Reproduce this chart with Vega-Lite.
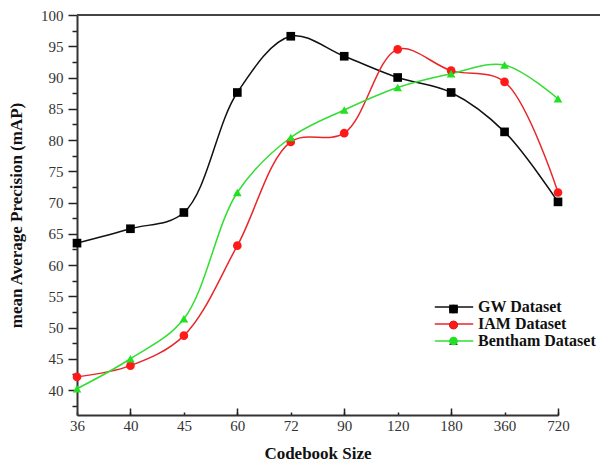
{
  "$schema": "https://vega.github.io/schema/vega-lite/v6.json",
  "width": 523,
  "height": 400,
  "autosize": "none",
  "padding": {"left": 77, "top": 15, "right": 0, "bottom": 53},
  "background": "white",
  "config": {"view": {"stroke": null}, "font": "Liberation Serif"},
  "data": {
    "values": [
      {"size": "36", "series": "GW Dataset", "map": 63.5},
      {"size": "40", "series": "GW Dataset", "map": 65.8},
      {"size": "45", "series": "GW Dataset", "map": 68.4},
      {"size": "60", "series": "GW Dataset", "map": 87.6},
      {"size": "72", "series": "GW Dataset", "map": 96.6},
      {"size": "90", "series": "GW Dataset", "map": 93.4},
      {"size": "120", "series": "GW Dataset", "map": 90.0},
      {"size": "180", "series": "GW Dataset", "map": 87.6},
      {"size": "360", "series": "GW Dataset", "map": 81.3},
      {"size": "720", "series": "GW Dataset", "map": 70.1},
      {"size": "36", "series": "IAM Dataset", "map": 42.1},
      {"size": "40", "series": "IAM Dataset", "map": 43.9},
      {"size": "45", "series": "IAM Dataset", "map": 48.7},
      {"size": "60", "series": "IAM Dataset", "map": 63.1},
      {"size": "72", "series": "IAM Dataset", "map": 79.7},
      {"size": "90", "series": "IAM Dataset", "map": 81.1},
      {"size": "120", "series": "IAM Dataset", "map": 94.5},
      {"size": "180", "series": "IAM Dataset", "map": 91.1},
      {"size": "360", "series": "IAM Dataset", "map": 89.3},
      {"size": "720", "series": "IAM Dataset", "map": 71.6},
      {"size": "36", "series": "Bentham Dataset", "map": 40.2},
      {"size": "40", "series": "Bentham Dataset", "map": 45.0},
      {"size": "45", "series": "Bentham Dataset", "map": 51.4},
      {"size": "60", "series": "Bentham Dataset", "map": 71.6},
      {"size": "72", "series": "Bentham Dataset", "map": 80.4},
      {"size": "90", "series": "Bentham Dataset", "map": 84.8},
      {"size": "120", "series": "Bentham Dataset", "map": 88.4},
      {"size": "180", "series": "Bentham Dataset", "map": 90.6},
      {"size": "360", "series": "Bentham Dataset", "map": 92.0},
      {"size": "720", "series": "Bentham Dataset", "map": 86.6}
    ]
  },
  "resolve": {"axis": {"x": "independent", "y": "independent"}},
  "layer": [
    {
      "mark": {"type": "rule", "color": "#444444", "strokeWidth": 2},
      "encoding": {
        "y": {
          "datum": 100,
          "type": "quantitative",
          "axis": {
            "orient": "left",
            "title": null,
            "labels": false,
            "domain": false,
            "grid": false,
            "values": [37.5, 42.5, 47.5, 52.5, 57.5, 62.5, 67.5, 72.5, 77.5, 82.5, 87.5, 92.5, 97.5],
            "tickSize": 5,
            "tickWidth": 1.5,
            "tickColor": "#222222"
          }
        }
      }
    },
    {
      "mark": {"type": "line", "interpolate": "catmull-rom", "strokeWidth": 1.5},
      "encoding": {
        "x": {
          "field": "size",
          "type": "ordinal",
          "sort": ["36", "40", "45", "60", "72", "90", "120", "180", "360", "720"],
          "scale": {"type": "point", "range": [0, 481], "padding": 0},
          "axis": {
            "orient": "bottom",
            "title": "Codebook Size",
            "titleFont": "Liberation Serif",
            "titleFontSize": 17,
            "titleFontWeight": "bold",
            "titleColor": "#111111",
            "titlePadding": 12,
            "labelFont": "Liberation Serif",
            "labelFontSize": 15,
            "labelColor": "#333333",
            "labelAngle": 0,
            "labelPadding": 6,
            "ticks": true,
            "tickSize": -3,
            "tickWidth": 1.5,
            "tickColor": "#222222",
            "domainColor": "#333333",
            "domainWidth": 2
          }
        },
        "y": {
          "field": "map",
          "type": "quantitative",
          "scale": {"domain": [36, 100], "nice": false, "zero": false},
          "axis": {
            "orient": "left",
            "title": "mean Average Precision (mAP)",
            "titleFont": "Liberation Serif",
            "titleFontSize": 17,
            "titleFontWeight": "bold",
            "titleColor": "#111111",
            "titlePadding": 15,
            "values": [40, 45, 50, 55, 60, 65, 70, 75, 80, 85, 90, 95, 100],
            "labelFont": "Liberation Serif",
            "labelFontSize": 15,
            "labelColor": "#333333",
            "labelPadding": 5,
            "labelFlush": false,
            "grid": false,
            "tickColor": "#222222",
            "tickWidth": 1.5,
            "tickSize": 9,
            "domainColor": "#333333",
            "domainWidth": 2
          }
        },
        "color": {
          "field": "series",
          "type": "nominal",
          "scale": {"domain": ["GW Dataset", "IAM Dataset", "Bentham Dataset"], "range": ["#111111", "#e8262a", "#33dd33"]},
          "legend": {
            "orient": "none",
            "legendX": 368,
            "legendY": 283,
            "title": null,
            "symbolType": "M-2.4,0H2.4",
            "symbolSize": 256,
            "symbolStrokeWidth": 1.5,
            "labelFont": "Liberation Serif",
            "labelFontSize": 16,
            "labelFontWeight": "bold",
            "labelColor": "#111111",
            "labelOffset": 15,
            "rowPadding": 0
          }
        }
      }
    },
    {
      "mark": {"type": "point", "filled": true, "size": 75, "opacity": 1},
      "encoding": {
        "x": {
          "field": "size",
          "type": "ordinal",
          "sort": ["36", "40", "45", "60", "72", "90", "120", "180", "360", "720"],
          "scale": {"type": "point", "range": [0, 481], "padding": 0},
          "axis": {
            "orient": "bottom",
            "title": null,
            "labels": false,
            "domain": false,
            "tickSize": -7,
            "tickWidth": 1.5,
            "tickColor": "#222222",
            "tickOpacity": {"condition": {"test": "indexof(['40','60','90','180','720'], datum.value) >= 0", "value": 1}, "value": 0}
          }
        },
        "y": {"field": "map", "type": "quantitative", "axis": null},
        "fill": {
          "field": "series",
          "type": "nominal",
          "sort": ["GW Dataset", "IAM Dataset", "Bentham Dataset"],
          "scale": {"range": ["#000000", "#ff1a1a", "#22e022"]},
          "legend": {
            "orient": "none",
            "legendX": 368.5,
            "legendY": 286,
            "title": null,
            "symbolSize": 75,
            "symbolStrokeWidth": 0,
            "labelExpr": "''",
            "labelFontSize": 16,
            "labelOffset": 0,
            "rowPadding": 0
          }
        },
        "shape": {
          "field": "series",
          "type": "nominal",
          "sort": ["GW Dataset", "IAM Dataset", "Bentham Dataset"],
          "scale": {"range": ["square", "circle", "triangle-up"]},
          "legend": {
            "orient": "none",
            "legendX": 368.5,
            "legendY": 286,
            "title": null,
            "symbolSize": 75,
            "symbolStrokeWidth": 0,
            "labelExpr": "''",
            "labelFontSize": 16,
            "labelOffset": 0,
            "rowPadding": 0
          }
        }
      }
    }
  ]
}
